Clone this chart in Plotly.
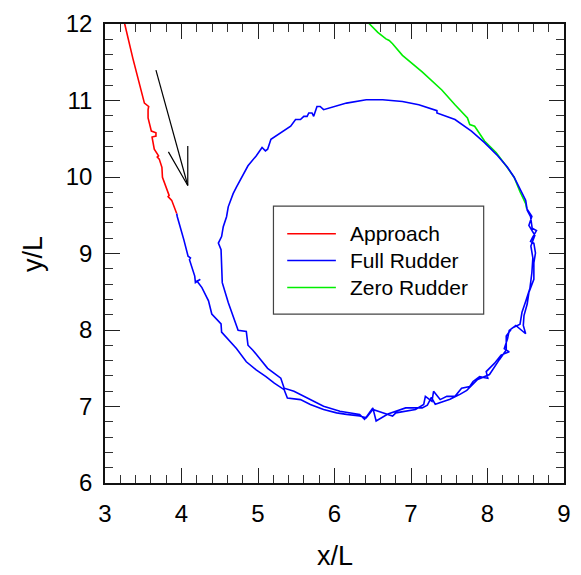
import plotly.graph_objects as go

# Approach (red)
approach_x = [3.245, 3.258, 3.365, 3.451, 3.515, 3.571, 3.563, 3.563, 3.606, 3.666, 3.666, 3.615,
              3.644, 3.700, 3.683, 3.709, 3.744, 3.751, 3.808, 3.838, 3.825, 3.872, 3.937]
approach_y = [12.107, 12.0, 11.548, 11.203, 10.966, 10.922, 10.880, 10.773, 10.600, 10.579, 10.535, 10.522,
              10.363, 10.277, 10.260, 10.234, 10.127, 9.997, 9.846, 9.760, 9.743, 9.695, 9.523]

# Full rudder (blue)
full_x = [3.937, 3.945, 4.031, 4.086, 4.117, 4.104, 4.173, 4.182, 4.246, 4.202, 4.267, 4.353, 4.396,
          4.517, 4.524, 4.653, 4.697, 4.675, 4.718, 4.847, 4.976, 5.104, 5.213, 5.342, 5.384, 5.555,
          5.684, 5.857, 6.028, 6.157, 6.329, 6.415, 6.501, 6.630, 6.759, 6.802, 6.930, 7.059, 7.166,
          7.188, 7.274, 7.295, 7.381, 7.468, 7.575, 7.661, 7.768, 7.811, 7.897, 8.004, 7.983, 8.090,
          8.177, 8.284, 8.219, 8.262, 8.284, 8.370, 8.499, 8.468, 8.477, 8.519, 8.541, 8.606, 8.606,
          8.627, 8.606, 8.563, 8.584, 8.640, 8.584, 8.563, 8.519, 8.499, 8.434, 8.390, 8.348, 8.261,
          8.133, 7.961, 7.790, 7.575, 7.339, 7.339, 7.102, 6.888, 6.630, 6.415, 6.157, 5.857, 5.813,
          5.771, 5.728, 5.706, 5.664, 5.642, 5.599, 5.555, 5.491, 5.427, 5.298, 5.255, 5.169, 5.126,
          5.097, 5.053, 4.976, 4.869, 4.782, 4.718, 4.675, 4.611, 4.589, 4.546, 4.524, 4.482, 4.517,
          4.524, 4.533, 4.611, 4.675, 4.740, 4.847, 4.869, 4.933, 5.019, 5.126, 5.298, 5.342, 5.470,
          5.684, 5.857, 6.071, 6.200, 6.329, 6.393, 6.501, 6.544, 6.698, 6.930, 7.146, 7.214, 7.266,
          7.317, 7.510, 7.639, 7.729, 7.871, 8.026, 8.155, 8.245, 8.245, 8.322, 8.425, 8.451, 8.503,
          8.554, 8.580, 8.593, 8.567, 8.619, 8.541, 8.580, 8.512]
full_y = [9.523, 9.481, 9.178, 8.964, 8.942, 8.920, 8.705, 8.619, 8.662, 8.641, 8.554, 8.382, 8.209,
          8.080, 7.973, 7.822, 7.779, 7.805, 7.757, 7.585, 7.478, 7.391, 7.305, 7.220, 7.111, 7.090,
          7.026, 6.961, 6.917, 6.897, 6.875, 6.853, 6.961, 6.917, 6.875, 6.917, 6.939, 6.961, 7.026,
          7.133, 7.068, 7.198, 7.090, 7.133, 7.133, 7.240, 7.262, 7.327, 7.391, 7.370, 7.456, 7.563,
          7.672, 7.715, 7.757, 7.886, 7.995, 8.059, 7.951, 8.059, 8.189, 8.339, 8.490, 8.662, 8.877,
          9.006, 9.135, 9.158, 9.200, 9.300, 9.329, 9.481, 9.566, 9.695, 9.824, 9.911, 9.997, 10.127,
          10.277, 10.450, 10.599, 10.751, 10.837, 10.867, 10.944, 10.987, 11.009, 11.009, 10.966, 10.880, 10.922,
          10.922, 10.793, 10.837, 10.837, 10.793, 10.793, 10.751, 10.751, 10.664, 10.579, 10.557, 10.492, 10.363,
          10.341, 10.385, 10.276, 10.147, 9.997, 9.868, 9.782, 9.610, 9.481, 9.351, 9.222, 9.136, 9.049,
          8.791, 8.619, 8.360, 8.189, 7.995, 7.982, 7.801, 7.736, 7.628, 7.499, 7.370, 7.240, 7.198,
          7.090, 7.004, 6.939, 6.917, 6.897, 6.832, 6.982, 6.810, 6.901, 6.982, 6.982, 7.017, 7.120,
          7.030, 7.094, 7.159, 7.211, 7.353, 7.418, 7.612, 7.740, 7.921, 8.025, 8.077, 8.232, 8.387,
          8.541, 8.748, 8.942, 9.097, 9.239, 9.368, 9.484, 9.588]

# Zero rudder (green)
zero_x = [8.512, 8.499, 8.425, 8.348, 8.245, 8.112, 7.961, 7.832, 7.768, 7.738, 7.575, 7.403, 7.146,
          6.888, 6.759, 6.715, 6.673, 6.566, 6.458, 6.363]
zero_y = [9.588, 9.653, 9.807, 9.997, 10.143, 10.320, 10.470, 10.664, 10.686, 10.773, 10.944, 11.138, 11.375,
          11.590, 11.742, 11.784, 11.806, 11.891, 12.000, 12.081]

# Heading arrow (black)
arrow_x = [3.666, 4.082, None, 3.829, 4.082, 4.082]
arrow_y = [11.397, 9.889, None, 10.328, 9.889, 10.406]

legend_names = ["Approach", "Full Rudder", "Zero Rudder"]
colors = ["#ff0000", "#0000ff", "#00ee00"]

fig = go.Figure()
fig.add_trace(go.Scatter(x=arrow_x, y=arrow_y, mode="lines", line=dict(color="black", width=1.2),
                         showlegend=False, hoverinfo="skip"))
fig.add_trace(go.Scatter(x=zero_x, y=zero_y, mode="lines", name=legend_names[2],
                         line=dict(color=colors[2], width=1.6), showlegend=False))
fig.add_trace(go.Scatter(x=full_x, y=full_y, mode="lines", name=legend_names[1],
                         line=dict(color=colors[1], width=1.6), showlegend=False))
fig.add_trace(go.Scatter(x=approach_x, y=approach_y, mode="lines", name=legend_names[0],
                         line=dict(color=colors[0], width=1.6), showlegend=False))

axis_common = dict(
    showline=True, linecolor="#111", linewidth=1.5, mirror="ticks",
    ticks="inside", ticklen=15, tickwidth=1.2, tickcolor="#222",
    minor=dict(dtick=0.2, ticks="inside", ticklen=8, tickwidth=1, tickcolor="#333"),
    showgrid=False, zeroline=False, dtick=1,
    tickfont=dict(family="Liberation Sans, Arial", size=24, color="black"),
)
fig.update_xaxes(range=[3, 9], tick0=3, ticklabelstandoff=8, **axis_common)
fig.update_yaxes(range=[6, 12], tick0=6, ticklabelstandoff=6, **axis_common)

# manual legend box
lx0, lx1, ly0, ly1 = 0.367, 0.825, 0.368, 0.603
fig.add_shape(type="rect", xref="paper", yref="paper", x0=lx0, x1=lx1, y0=ly0, y1=ly1,
              line=dict(color="#444", width=1.2), fillcolor="white", layer="above")
row_y = [0.543, 0.485, 0.426]
for name, col, ry in zip(legend_names, colors, row_y):
    fig.add_shape(type="line", xref="paper", yref="paper", x0=0.397, x1=0.503, y0=ry, y1=ry,
                  line=dict(color=col, width=1.5), layer="above")
    fig.add_annotation(x=0.529, y=ry, xref="paper", yref="paper", text=name, showarrow=False,
                       xanchor="left", yanchor="middle",
                       font=dict(family="Liberation Sans, Arial", size=21, color="black"))

fig.add_annotation(x=0.5, y=-0.158, xref="paper", yref="paper", text="x/L", showarrow=False,
                   xanchor="center", yanchor="middle",
                   font=dict(family="Liberation Sans, Arial", size=27, color="black"))
fig.add_annotation(x=-0.158, y=0.5, xref="paper", yref="paper", text="y/L", showarrow=False,
                   textangle=-90, xanchor="center", yanchor="middle",
                   font=dict(family="Liberation Sans, Arial", size=27, color="black"))

fig.update_layout(
    width=581, height=575,
    margin=dict(l=105, r=10.5, t=18, b=92),
    plot_bgcolor="white", paper_bgcolor="white",
)
fig.write_html("out.html")
